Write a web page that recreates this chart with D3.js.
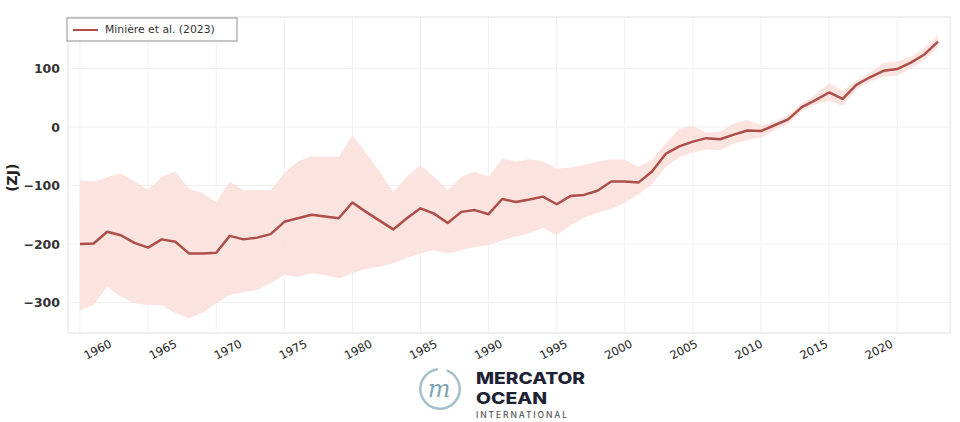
<!DOCTYPE html>
<html>
<head>
<meta charset="utf-8">
<script src="https://cdn.jsdelivr.net/npm/d3@7"></script>
<style>
  html, body { margin: 0; padding: 0; background: #ffffff; }
  svg { display: block; font-family: "DejaVu Sans", sans-serif; }
</style>
</head>
<body>
<svg id="chart" width="960" height="422"></svg>
<script>
// ---- data (Minière et al. 2023, ocean heat content anomaly, ZJ) ----
const years = d3.range(1960, 2024);
const central = [
  -200, -199, -179, -185, -198, -206, -192, -196, -216, -216,
  -215, -186, -192, -189, -183, -162, -156, -150, -153, -156,
  -129, -145, -160, -175, -156, -139, -148, -164, -145, -142,
  -149, -123, -128, -124, -119, -132, -118, -116, -109, -93,
  -93, -95, -76, -46, -33, -25, -19, -21, -13, -6,
  -7, 3, 13, 34, 46, 59, 48, 72, 85, 96,
  99, 110, 124, 146
];
const upper = [
  -91, -93, -86, -79, -93, -107, -85, -76, -105, -113,
  -128, -93, -108, -108, -108, -78, -59, -50, -51, -51,
  -14, -45, -76, -111, -85, -65, -85, -107, -85, -76,
  -85, -54, -59, -55, -59, -71, -69, -65, -59, -55,
  -56, -68, -56, -28, -3, 2, -10, -8, 6, 12,
  3, 9, 21, 40, 55, 75, 62, 79, 93, 110,
  112, 120, 135, 157
];
const lower = [
  -313, -304, -273, -290, -301, -304, -304, -318, -327, -318,
  -301, -287, -282, -279, -267, -253, -256, -250, -253, -259,
  -250, -242, -239, -233, -224, -216, -210, -216, -210, -205,
  -202, -194, -187, -182, -172, -185, -168, -155, -147, -140,
  -130, -115, -98, -68, -52, -44, -38, -40, -28, -22,
  -18, -5, 5, 28, 38, 45, 36, 64, 77, 86,
  88, 100, 114, 136
];
const xTicks = [1960, 1965, 1970, 1975, 1980, 1985, 1990, 1995, 2000, 2005, 2010, 2015, 2020];
const yTicks = [100, 0, -100, -200, -300];
const legendLabel = "Minière et al. (2023)";
const yLabel = "(ZJ)";

const data = years.map((yr, i) => ({ year: yr, v: central[i], lo: lower[i], hi: upper[i] }));

// ---- layout ----
const svg = d3.select("#chart");
const mLeft = 68, mRight = 950, mTop = 17, mBottom = 333;
const x = d3.scaleLinear().domain([1959.12, 2023.88]).range([mLeft, mRight]);
const y = d3.scaleLinear().domain([-352, 188]).range([mBottom, mTop]);

const lineColor = "#ad4f48";
const bandColor = "#fbe1dd";

// frame background
svg.append("rect")
  .attr("x", mLeft).attr("y", mTop)
  .attr("width", mRight - mLeft).attr("height", mBottom - mTop)
  .attr("fill", "#ffffff");

// grid
const grid = svg.append("g");
grid.selectAll("line.gx").data(xTicks).join("line")
  .attr("x1", d => x(d)).attr("x2", d => x(d))
  .attr("y1", mTop).attr("y2", mBottom)
  .attr("stroke", "#f0f0f0").attr("stroke-width", 1);
grid.selectAll("line.gy").data(yTicks).join("line")
  .attr("x1", mLeft).attr("x2", mRight)
  .attr("y1", d => y(d)).attr("y2", d => y(d))
  .attr("stroke", "#f0f0f0").attr("stroke-width", 1);

// uncertainty band
svg.append("path")
  .datum(data)
  .attr("fill", bandColor)
  .attr("fill-opacity", 0.9)
  .attr("d", d3.area().x(d => x(d.year)).y0(d => y(d.lo)).y1(d => y(d.hi)));

// central line
svg.append("path")
  .datum(data)
  .attr("fill", "none")
  .attr("stroke", lineColor)
  .attr("stroke-width", 2.5)
  .attr("stroke-linejoin", "round")
  .attr("d", d3.line().x(d => x(d.year)).y(d => y(d.v)));

// frame
svg.append("rect")
  .attr("x", mLeft).attr("y", mTop)
  .attr("width", mRight - mLeft).attr("height", mBottom - mTop)
  .attr("fill", "none").attr("stroke", "#e4e4e4").attr("stroke-width", 1.2);

// y axis labels
const yAxis = d3.axisLeft(y).tickValues(yTicks).tickSize(0).tickPadding(8)
  .tickFormat(d => d < 0 ? "\u2212" + Math.abs(d) : String(d));
const gy = svg.append("g").attr("transform", `translate(${mLeft},0)`).call(yAxis);
gy.select(".domain").remove();
gy.selectAll("text")
  .attr("font-family", "DejaVu Sans, sans-serif")
  .attr("font-size", 12.5).attr("font-weight", "bold").attr("fill", "#333");

// x axis labels (rotated)
const xLab = d3.scaleLinear().domain([1960, 2020]).range([x(1960) + 18, x(2020) - 18]);
svg.append("g").selectAll("text").data(xTicks).join("text")
  .attr("transform", d => `translate(${xLab(d)},${350}) rotate(-27)`)
  .attr("text-anchor", "middle")
  .attr("dominant-baseline", "middle")
  .attr("font-size", 11.5)
  .attr("fill", "#222")
  .text(d => d);

// y label
svg.append("text")
  .attr("transform", `translate(13,${(y(-100) + y(-200)) / 2 - 37}) rotate(-90)`)
  .attr("text-anchor", "middle")
  .attr("dominant-baseline", "middle")
  .attr("font-size", 14).attr("font-weight", "bold").attr("fill", "#222")
  .text(yLabel);

// legend
const lg = svg.append("g").attr("transform", "translate(67,18)");
lg.append("rect").attr("width", 170).attr("height", 23)
  .attr("fill", "#fff").attr("stroke", "#a0a0a0").attr("stroke-width", 1.2);
lg.append("line").attr("x1", 6).attr("x2", 31).attr("y1", 12).attr("y2", 12)
  .attr("stroke", lineColor).attr("stroke-width", 2);
lg.append("text").attr("x", 38).attr("y", 12).attr("dominant-baseline", "middle")
  .attr("font-size", 10.8).attr("fill", "#333").text(legendLabel);

// Mercator Ocean logo
const logo = svg.append("g").attr("transform", "translate(440,389)");
logo.append("path")
  .attr("d", d3.arc()({ innerRadius: 18.5, outerRadius: 21, startAngle: 0.35, endAngle: 2 * Math.PI - 0.1 }))
  .attr("fill", "#a6c0cb");
logo.append("text")
  .attr("x", -1).attr("y", 1)
  .attr("text-anchor", "middle").attr("dominant-baseline", "middle")
  .attr("font-family", "DejaVu Serif, serif").attr("font-style", "italic")
  .attr("font-size", 24).attr("fill", "#7fa3b3")
  .text("m");
svg.append("text").attr("x", 476).attr("y", 384)
  .attr("font-family", "Inter, 'Open Sans', sans-serif").attr("font-weight", 800)
  .attr("font-size", 16).attr("fill", "#1e2235")
  .attr("textLength", 109).attr("lengthAdjust", "spacingAndGlyphs")
  .text("MERCATOR");
svg.append("text").attr("x", 476).attr("y", 404)
  .attr("font-family", "Inter, 'Open Sans', sans-serif").attr("font-weight", 800)
  .attr("font-size", 16).attr("fill", "#1e2235")
  .attr("textLength", 71).attr("lengthAdjust", "spacingAndGlyphs")
  .text("OCEAN");
svg.append("text").attr("x", 476).attr("y", 418)
  .attr("font-family", "Inter, 'Open Sans', sans-serif").attr("font-weight", 500)
  .attr("font-size", 8.5).attr("fill", "#555")
  .attr("textLength", 91).attr("lengthAdjust", "spacing")
  .text("INTERNATIONAL");
</script>
</body>
</html>
